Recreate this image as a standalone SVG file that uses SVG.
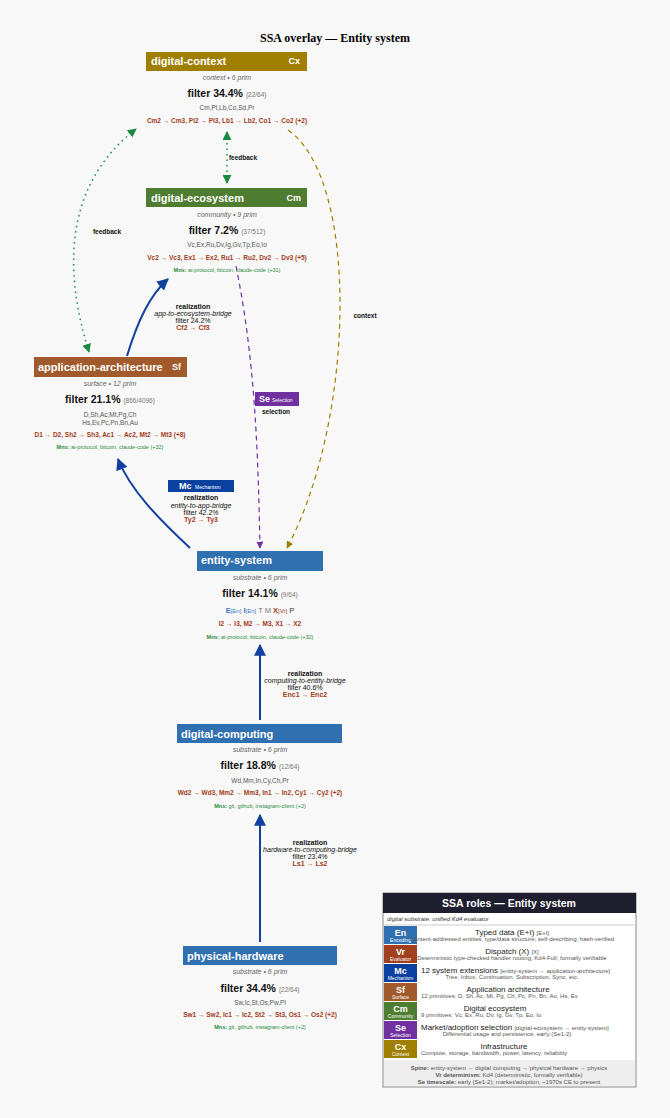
<svg xmlns="http://www.w3.org/2000/svg" width="670" height="1118" viewBox="0 0 670 1118">
<style>
text{font-family:"Liberation Sans",Arial,sans-serif}
.hd{fill:#fff;font-weight:bold;font-size:11px}
.ab{fill:#fff;font-weight:bold;font-size:9px}
.sub{fill:#666;font-style:italic;font-size:7px}
.fl{fill:#111;font-weight:bold;font-size:10.5px}
.fl tspan{font-weight:normal;fill:#777;font-size:6.5px}
.pr{fill:#555;font-size:6.5px}
.rd{fill:#a33a1a;font-weight:bold;font-size:6.5px}
.mn{fill:#2a8a3a;font-size:5.5px}
.mn tspan{font-weight:bold}
.lb{fill:#111;font-size:7px;font-weight:bold}
.li{fill:#111;font-size:7px;font-style:italic}
.ln{fill:#111;font-size:7px}
.lr{fill:#a33a1a;font-size:7px;font-weight:bold}
.lt{fill:#222;font-size:8px}
.ls{fill:#555;font-size:6px}
.bd{fill:#fff;font-weight:bold;font-size:9px}
.bs{fill:#fff;font-size:5px}
</style>
<defs>
<marker id="ab" viewBox="0 0 10 10" refX="9" refY="5" markerWidth="6" markerHeight="6" orient="auto-start-reverse"><path d="M0,0L10,5L0,10z" fill="#1040a0"/></marker>
<marker id="ag" viewBox="0 0 10 10" refX="9" refY="5" markerWidth="6" markerHeight="6" orient="auto-start-reverse"><path d="M0,0L10,5L0,10z" fill="#1a8a40"/></marker>
<marker id="ao" viewBox="0 0 10 10" refX="9" refY="5" markerWidth="6" markerHeight="6" orient="auto-start-reverse"><path d="M0,0L10,5L0,10z" fill="#a08000"/></marker>
<marker id="ap" viewBox="0 0 10 10" refX="9" refY="5" markerWidth="6" markerHeight="6" orient="auto-start-reverse"><path d="M0,0L10,5L0,10z" fill="#7030a0"/></marker>
</defs>
<rect width="670" height="1118" fill="#f8f8f8"/>
<text x="335" y="42" text-anchor="middle" style="font-family:'Liberation Serif',serif;font-weight:bold;font-size:12px">SSA overlay — Entity system</text>

<g id="connectors" fill="none">
<path d="M227,183 L227,132" stroke="#1a8a40" stroke-width="1.5" stroke-dasharray="1.5,4" marker-start="url(#ag)" marker-end="url(#ag)"/>
<path d="M89,352 C60,260 70,180 136,129" stroke="#1a8a40" stroke-width="1.5" stroke-dasharray="1.5,4" marker-start="url(#ag)" marker-end="url(#ag)"/>
<path d="M288,130 C360,180 355,420 287,548" stroke="#a08000" stroke-width="1.2" stroke-dasharray="5,4" marker-end="url(#ao)"/>
<path d="M236,266 C255,360 258,450 260,548" stroke="#7030a0" stroke-width="1.2" stroke-dasharray="5,4" marker-end="url(#ap)"/>
<path d="M127,356 C138,320 150,295 168,279" stroke="#1040a0" stroke-width="2" marker-end="url(#ab)"/>
<path d="M190,548 C160,520 130,490 118,459" stroke="#1040a0" stroke-width="2" marker-end="url(#ab)"/>
<path d="M260,720 L260,645" stroke="#1040a0" stroke-width="2" marker-end="url(#ab)"/>
<path d="M260,942 L260,815" stroke="#1040a0" stroke-width="2" marker-end="url(#ab)"/>
</g>

<g id="conn-labels">
<text x="243" y="160" text-anchor="middle" class="lb" style="font-size:6.5px">feedback</text>
<text x="107" y="234" text-anchor="middle" class="lb" style="font-size:6.5px">feedback</text>
<text x="365" y="318" text-anchor="middle" class="lb" style="font-size:6.5px">context</text>
<rect x="255" y="392" width="44" height="14" fill="#7030a0"/>
<text x="259" y="402" class="bd">Se</text><text x="272" y="402" class="bs">Selection</text>
<text x="276" y="414" text-anchor="middle" class="lb" style="font-size:6.5px">selection</text>
<text x="193" y="309" text-anchor="middle" class="lb">realization</text>
<text x="193" y="316" text-anchor="middle" class="li">app-to-ecosystem-bridge</text>
<text x="193" y="323" text-anchor="middle" class="ln">filter 24.2%</text>
<text x="193" y="330" text-anchor="middle" class="lr">Cf2 → Cf3</text>
<rect x="168" y="480" width="66" height="12" fill="#0a40a0"/>
<text x="179" y="489" class="bd">Mc</text><text x="195" y="489" class="bs">Mechanism</text>
<text x="201" y="500" text-anchor="middle" class="lb">realization</text>
<text x="201" y="508" text-anchor="middle" class="li">entity-to-app-bridge</text>
<text x="201" y="515" text-anchor="middle" class="ln">filter 42.2%</text>
<text x="201" y="522" text-anchor="middle" class="lr">Ty2 → Ty3</text>
<text x="305" y="676" text-anchor="middle" class="lb">realization</text>
<text x="305" y="683" text-anchor="middle" class="li">computing-to-entity-bridge</text>
<text x="305" y="690" text-anchor="middle" class="ln">filter 40.6%</text>
<text x="305" y="697" text-anchor="middle" class="lr">Enc1 → Enc2</text>
<text x="310" y="845" text-anchor="middle" class="lb">realization</text>
<text x="310" y="852" text-anchor="middle" class="li">hardware-to-computing-bridge</text>
<text x="310" y="859" text-anchor="middle" class="ln">filter 23.4%</text>
<text x="310" y="866" text-anchor="middle" class="lr">Ls1 → Ls2</text>
</g>

<g id="digital-context">
<rect x="146" y="52" width="161" height="19" fill="#a07f00"/>
<text x="151" y="65" class="hd">digital-context</text><text x="300" y="64" text-anchor="end" class="ab">Cx</text>
<text x="227" y="80" text-anchor="middle" class="sub">context • 6 prim</text>
<text x="227" y="97" text-anchor="middle" class="fl">filter 34.4% <tspan>(22/64)</tspan></text>
<text x="227" y="110" text-anchor="middle" class="pr">Cm,Pl,Lb,Co,Sd,Pr</text>
<text x="227" y="123" text-anchor="middle" class="rd">Cm2 → Cm3, Pl2 → Pl3, Lb1 → Lb2, Co1 → Co2 (+2)</text>
</g>

<g id="digital-ecosystem">
<rect x="146" y="188" width="161" height="19" fill="#4e7d32"/>
<text x="151" y="202" class="hd">digital-ecosystem</text><text x="301" y="201" text-anchor="end" class="ab">Cm</text>
<text x="227" y="217" text-anchor="middle" class="sub">community • 9 prim</text>
<text x="227" y="234" text-anchor="middle" class="fl">filter 7.2% <tspan>(37/512)</tspan></text>
<text x="227" y="247" text-anchor="middle" class="pr">Vc,Ex,Ru,Dv,Ig,Gv,Tp,Eo,Io</text>
<text x="227" y="260" text-anchor="middle" class="rd">Vc2 → Vc3, Ex1 → Ex2, Ru1 → Ru2, Dv2 → Dv3 (+5)</text>
<text x="227" y="272" text-anchor="middle" class="mn"><tspan>Mns:</tspan> at-protocol, bitcoin, claude-code (+31)</text>
</g>

<g id="application-architecture">
<rect x="34" y="357" width="153" height="20" fill="#a05a2c"/>
<text x="38" y="371" class="hd">application-architecture</text><text x="181" y="370" text-anchor="end" class="ab">Sf</text>
<text x="110" y="386" text-anchor="middle" class="sub">surface • 12 prim</text>
<text x="110" y="403" text-anchor="middle" class="fl">filter 21.1% <tspan>(866/4096)</tspan></text>
<text x="110" y="417" text-anchor="middle" class="pr">D,Sh,Ac,Mt,Pg,Ch</text>
<text x="110" y="425" text-anchor="middle" class="pr">Hs,Ev,Pc,Pn,Bn,Au</text>
<text x="110" y="437" text-anchor="middle" class="rd">D1 → D2, Sh2 → Sh3, Ac1 → Ac2, Mt2 → Mt3 (+8)</text>
<text x="110" y="449" text-anchor="middle" class="mn"><tspan>Mns:</tspan> at-protocol, bitcoin, claude-code (+32)</text>
</g>

<g id="entity-system">
<rect x="197" y="551" width="126" height="20" fill="#3070b0"/>
<text x="201" y="564" class="hd">entity-system</text>
<text x="260" y="580" text-anchor="middle" class="sub">substrate • 6 prim</text>
<text x="260" y="597" text-anchor="middle" class="fl">filter 14.1% <tspan>(9/64)</tspan></text>
<text x="260" y="613" text-anchor="middle" style="font-size:7.5px"><tspan fill="#3a7ac0" font-weight="bold">E</tspan><tspan fill="#3a7ac0" font-size="6">[En]</tspan> <tspan fill="#3a7ac0" font-weight="bold">I</tspan><tspan fill="#3a7ac0" font-size="6">[En]</tspan> <tspan fill="#777">T</tspan> <tspan fill="#777">M</tspan> <tspan fill="#a33a1a" font-weight="bold">X</tspan><tspan fill="#a33a1a" font-size="6">[Vr]</tspan> <tspan fill="#333">P</tspan></text>
<text x="260" y="626" text-anchor="middle" class="rd">I2 → I3, M2 → M3, X1 → X2</text>
<text x="260" y="639" text-anchor="middle" class="mn"><tspan>Mns:</tspan> at-protocol, bitcoin, claude-code (+32)</text>
</g>

<g id="digital-computing">
<rect x="177" y="724" width="165" height="19" fill="#3070b0"/>
<text x="181" y="738" class="hd">digital-computing</text>
<text x="260" y="752" text-anchor="middle" class="sub">substrate • 6 prim</text>
<text x="260" y="769" text-anchor="middle" class="fl">filter 18.8% <tspan>(12/64)</tspan></text>
<text x="260" y="783" text-anchor="middle" class="pr">Wd,Mm,In,Cy,Ch,Pr</text>
<text x="260" y="795" text-anchor="middle" class="rd">Wd2 → Wd3, Mm2 → Mm3, In1 → In2, Cy1 → Cy2 (+2)</text>
<text x="260" y="808" text-anchor="middle" class="mn"><tspan>Mns:</tspan> git, github, instagram-client (+2)</text>
</g>

<g id="physical-hardware">
<rect x="183" y="946" width="154" height="19" fill="#3070b0"/>
<text x="187" y="960" class="hd">physical-hardware</text>
<text x="260" y="974" text-anchor="middle" class="sub">substrate • 6 prim</text>
<text x="260" y="992" text-anchor="middle" class="fl">filter 34.4% <tspan>(22/64)</tspan></text>
<text x="260" y="1005" text-anchor="middle" class="pr">Sw,Ic,St,Os,Pw,Pl</text>
<text x="260" y="1017" text-anchor="middle" class="rd">Sw1 → Sw2, Ic1 → Ic2, St2 → St3, Os1 → Os2 (+2)</text>
<text x="260" y="1029" text-anchor="middle" class="mn"><tspan>Mns:</tspan> git, github, instagram-client (+2)</text>
</g>

<g id="legend">
<rect x="383" y="893" width="253" height="194" fill="#fff" stroke="#888"/>
<rect x="383" y="893" width="253" height="20" fill="#1e1e2e"/>
<text x="509" y="907" text-anchor="middle" fill="#fff" font-weight="bold" font-size="10.5">SSA roles — Entity system</text>
<text x="387" y="921" fill="#333" font-style="italic" font-size="6">digital substrate, unified Kd4 evaluator</text>
<line x1="383" y1="925" x2="636" y2="925" stroke="#ccc"/>
<rect x="384" y="926" width="33" height="18" fill="#3070b0"/><text x="400.5" y="936" text-anchor="middle" class="bd">En</text><text x="400.5" y="942" text-anchor="middle" class="bs">Encoding</text>
<text x="512" y="935" text-anchor="middle" class="lt">Typed data (E+I) <tspan class="ls">[E+I]</tspan></text>
<text x="512" y="941" text-anchor="middle" class="ls">Content-addressed entities; type/data structure; self-describing; hash-verified</text>
<rect x="384" y="945" width="33" height="18" fill="#a0401e"/><text x="400.5" y="955" text-anchor="middle" class="bd">Vr</text><text x="400.5" y="961" text-anchor="middle" class="bs">Evaluator</text>
<text x="512" y="954" text-anchor="middle" class="lt">Dispatch (X) <tspan class="ls">[X]</tspan></text>
<text x="512" y="960" text-anchor="middle" class="ls">Deterministic type-checked handler routing; Kd4-Full; formally verifiable</text>
<rect x="384" y="964" width="33" height="18" fill="#0a40a0"/><text x="400.5" y="974" text-anchor="middle" class="bd">Mc</text><text x="400.5" y="980" text-anchor="middle" class="bs">Mechanism</text>
<text x="421" y="973" class="lt">12 system extensions <tspan class="ls">[entity-system → application-architecture]</tspan></text>
<text x="512" y="979" text-anchor="middle" class="ls">Tree, Inbox, Continuation, Subscription, Sync, etc.</text>
<rect x="384" y="983" width="33" height="18" fill="#a05a2c"/><text x="400.5" y="993" text-anchor="middle" class="bd">Sf</text><text x="400.5" y="999" text-anchor="middle" class="bs">Surface</text>
<text x="508" y="992" text-anchor="middle" class="lt">Application architecture</text>
<text x="421" y="998" class="ls">12 primitives: D, Sh, Ac, Mt, Pg, Ch, Pc, Pn, Bn, Au, Hs, Ev</text>
<rect x="384" y="1002" width="33" height="18" fill="#4e7d32"/><text x="400.5" y="1012" text-anchor="middle" class="bd">Cm</text><text x="400.5" y="1018" text-anchor="middle" class="bs">Community</text>
<text x="495" y="1011" text-anchor="middle" class="lt">Digital ecosystem</text>
<text x="421" y="1017" class="ls">9 primitives: Vc, Ex, Ru, Dv, Ig, Gv, Tp, Eo, Io</text>
<rect x="384" y="1021" width="33" height="18" fill="#7030a0"/><text x="400.5" y="1031" text-anchor="middle" class="bd">Se</text><text x="400.5" y="1037" text-anchor="middle" class="bs">Selection</text>
<text x="421" y="1030" class="lt">Market/adoption selection <tspan class="ls">[digital-ecosystem → entity-system]</tspan></text>
<text x="507" y="1036" text-anchor="middle" class="ls">Differential usage and persistence; early (Se1-2)</text>
<rect x="384" y="1040" width="33" height="18" fill="#a07f00"/><text x="400.5" y="1050" text-anchor="middle" class="bd">Cx</text><text x="400.5" y="1056" text-anchor="middle" class="bs">Context</text>
<text x="504" y="1049" text-anchor="middle" class="lt">Infrastructure</text>
<text x="421" y="1055" class="ls">Compute, storage, bandwidth, power, latency, reliability</text>
<rect x="384" y="1060" width="251" height="26" fill="#eee"/>
<text x="509" y="1070" text-anchor="middle" class="ls" fill="#333"><tspan font-weight="bold">Spine:</tspan> entity-system → digital computing → physical hardware → physics</text>
<text x="509" y="1077" text-anchor="middle" class="ls" fill="#333"><tspan font-weight="bold">Vr determinism:</tspan> Kd4 (deterministic, formally verifiable)</text>
<text x="509" y="1084" text-anchor="middle" class="ls" fill="#333"><tspan font-weight="bold">Se timescale:</tspan> early (Se1-2); market/adoption, ~1970s CE to present</text>
</g>
</svg>
